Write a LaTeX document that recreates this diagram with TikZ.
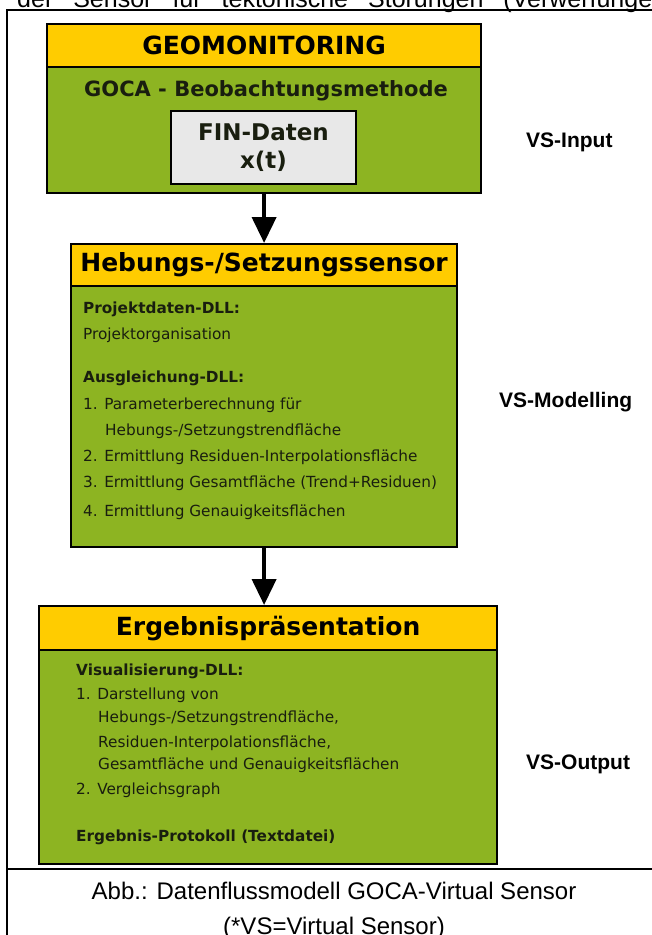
\documentclass[tikz,border=0pt]{standalone}
\usepackage{fontspec}
\setmainfont{DejaVu Sans}
\newfontfamily\arialf{Liberation Sans}
\usetikzlibrary{arrows.meta}
\definecolor{hdryellow}{RGB}{255,204,0}
\definecolor{boxgreen}{RGB}{141,180,34}
\definecolor{fingrey}{RGB}{232,232,232}
\definecolor{bodytext}{RGB}{25,30,15}
\begin{document}
\begin{tikzpicture}[x=1pt,y=-1pt,
  hdr/.style={draw=black,line width=2.2pt,fill=hdryellow,inner sep=0pt,anchor=north west,
    font=\fontsize{25}{30}\selectfont\bfseries},
  greenbox/.style={draw=black,line width=2.2pt,fill=boxgreen,inner sep=0pt,anchor=north west},
  txt/.style={anchor=base west,inner sep=0pt,text=bodytext,font=\fontsize{15.3}{18}\selectfont},
  btxt/.style={txt,font=\fontsize{15.3}{18}\selectfont\bfseries},
  vslabel/.style={anchor=base west,inner sep=0pt,font=\arialf\fontsize{21}{25}\selectfont\bfseries},
  captxt/.style={anchor=base,inner sep=0pt,font=\arialf\fontsize{24}{28}\selectfont},
  framestyle/.style={draw=black,line width=2pt},
  arr/.style={draw=black,line width=4pt,-{Triangle[width=24pt,length=26pt]}}
]
\useasboundingbox (0,0) rectangle (652,935);
\clip (0,0) rectangle (652,935);

% top text (cut off at the top edge, as in the reference)
\node[anchor=base west,inner sep=0pt,font=\arialf\fontsize{25}{28}\selectfont] (toptext) at (17,7.5)
  {\spaceskip=20pt der Sensor für tektonische Störungen (Verwerfunge};

% frame
\draw[framestyle] (7,945) -- (7,10) -- (660,10);
\draw[framestyle] (7,869) -- (660,869);

% box 1
\node[greenbox,minimum width=434pt,minimum height=126pt] (b1) at (46,66) {};
\node[hdr,minimum width=434pt,minimum height=43pt] (h1) at (46,23) {\raisebox{-2pt}{GEOMONITORING}};
\node[anchor=base,inner sep=0pt,text=bodytext,font=\fontsize{21}{25}\selectfont\bfseries] (goca) at (266,96) {GOCA - Beobachtungsmethode};
\node[draw=black,line width=2pt,fill=fingrey,anchor=north west,minimum width=185pt,minimum height=73pt,inner sep=0pt,
  align=center,font=\fontsize{23}{28}\selectfont\bfseries,text=bodytext] (fin) at (170,110) {\raisebox{-3pt}{FIN-Daten}\\\raisebox{-3pt}{x(t)}};
\node[vslabel] (vsin) at (526,147) {VS-Input};

% box 2
\node[greenbox,minimum width=386pt,minimum height=261pt] (b2) at (70,285) {};
\node[hdr,minimum width=386pt,minimum height=42pt] (h2) at (70,243) {Hebungs-/Setzungssensor};
\node[btxt] (p1) at (83,313) {Projektdaten-DLL:};
\node[txt] (p2) at (83,339) {Projektorganisation};
\node[btxt] (p3) at (83,382) {Ausgleichung-DLL:};
\node[txt] (p4) at (83,409) {1. Parameterberechnung für};
\node[txt] (p5) at (105,435) {Hebungs-/Setzungstrendfläche};
\node[txt] (p6) at (83,461) {2. Ermittlung Residuen-Interpolationsfläche};
\node[txt] (p7) at (83,487) {3. Ermittlung Gesamtfläche (Trend+Residuen)};
\node[txt] (p8) at (83,516) {4. Ermittlung Genauigkeitsflächen};
\node[vslabel] (vsmod) at (499,407) {VS-Modelling};

% box 3
\node[greenbox,minimum width=458pt,minimum height=214pt] (b3) at (38,649) {};
\node[hdr,minimum width=458pt,minimum height=44pt] (h3) at (38,605) {Ergebnispräsentation};
\node[btxt] (q1) at (76,675) {Visualisierung-DLL:};
\node[txt] (q2) at (76,699) {1. Darstellung von};
\node[txt] (q3) at (98,722) {Hebungs-/Setzungstrendfläche,};
\node[txt] (q4) at (98,747) {Residuen-Interpolationsfläche,};
\node[txt] (q5) at (98,769) {Gesamtfläche und Genauigkeitsflächen};
\node[txt] (q6) at (76,794) {2. Vergleichsgraph};
\node[btxt] (q7) at (76,841) {Ergebnis-Protokoll (Textdatei)};
\node[vslabel] (vsout) at (526,769) {VS-Output};

% arrows
\draw[arr] (b1.south) -- (h2.north);
\draw[arr] (b2.south) -- (h3.north -| b2.south);

% caption
\node[captxt] (cap1) at (334,899) {Abb.: Datenflussmodell GOCA-Virtual Sensor};
\node[captxt] (cap2) at (334,934) {(*VS=Virtual Sensor)};
\end{tikzpicture}
\end{document}
